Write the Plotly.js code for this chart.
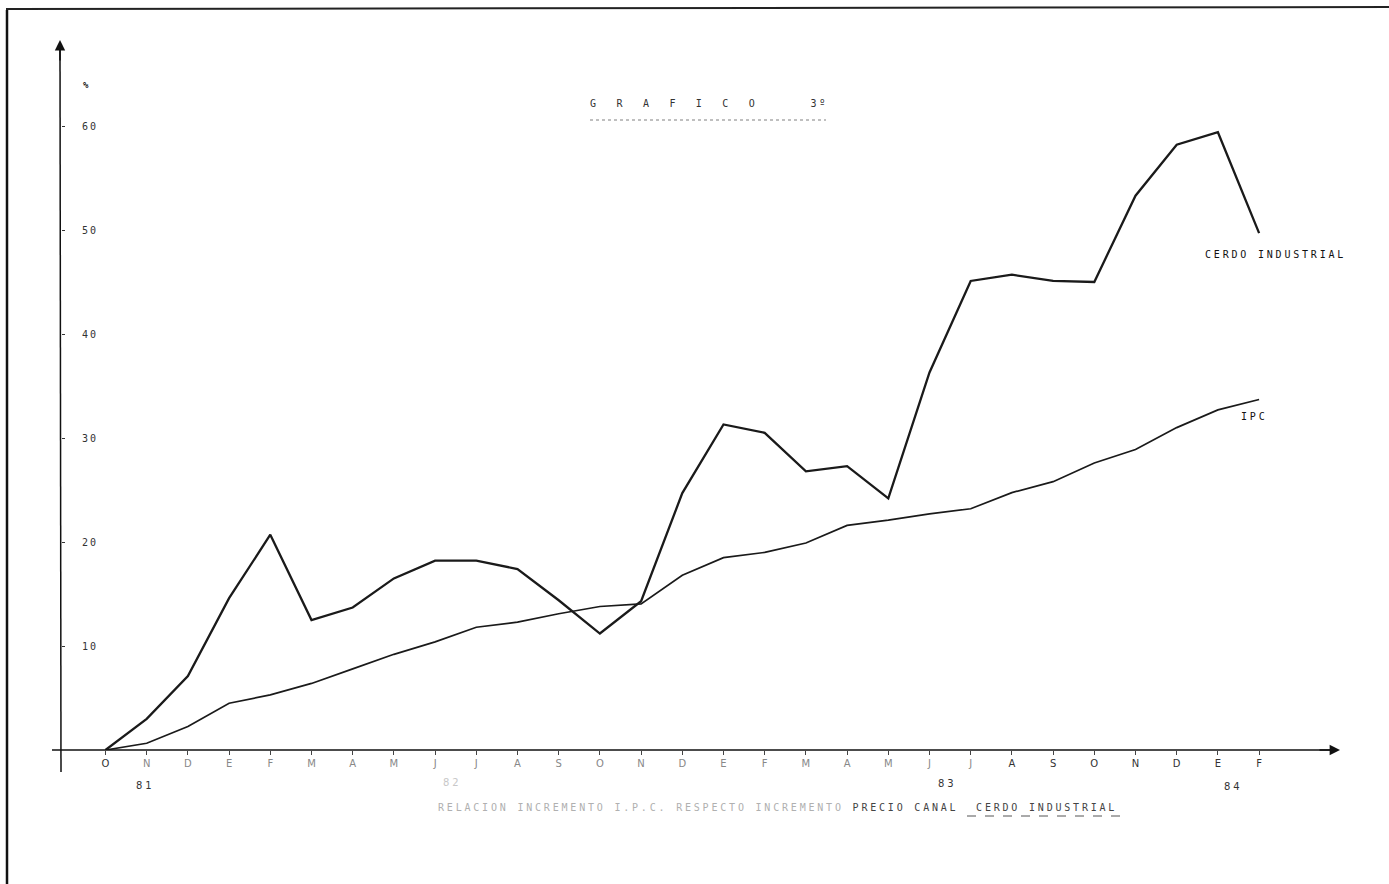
<!DOCTYPE html>
<html>
<head>
<meta charset="utf-8">
<script src="https://cdn.plot.ly/plotly-3.0.1.min.js"></script>
<style>
html,body{margin:0;padding:0;background:#fff;}
#chart{width:1389px;height:884px;}
.annotation-text{letter-spacing:2.8px;}
.ytick text{letter-spacing:2px;}
</style>
</head>
<body>
<div id="chart"></div>
<script>
// Months from Oct 1981 to Feb 1984
const months = ['O','N','D','E','F','M','A','M','J','J','A','S','O','N','D','E','F','M','A','M','J','J','A','S','O','N','D','E','F'];
const monthIndex = months.map((m, i) => i);
// % increase, CERDO INDUSTRIAL (pig carcass price)
const cerdo = [0, 3.0, 7.1, 14.6, 20.7, 12.5, 13.7, 16.5, 18.2, 18.2, 17.4, 14.4, 11.2, 14.3, 24.7, 31.3, 30.5, 26.8, 27.3, 24.2, 36.3, 45.1, 45.7, 45.1, 45.0, 53.3, 58.2, 59.4, 49.7];
// % increase, IPC
const ipc = [0, 0.65, 2.25, 4.5, 5.3, 6.4, 7.8, 9.2, 10.4, 11.8, 12.3, 13.1, 13.8, 14.05, 16.8, 18.5, 19.0, 19.9, 21.6, 22.1, 22.7, 23.2, 24.75, 25.8, 27.6, 28.9, 31.0, 32.7, 33.7];
const yTicks = [10, 20, 30, 40, 50, 60];
const yearLabels = ['81', '82', '83', '84'];
const yearAt = [0.97, 8.41, 20.43, 27.37];

const mono = 'DejaVu Sans Mono, Liberation Mono, monospace';

// faded scan: first and last months printed darker
const monthText = months.map((m, i) =>
  (i === 0 || i >= 22) ? '<span style="color:#333">' + m + '</span>' : m);

const traces = [
  {x: monthIndex, y: cerdo, type: 'scatter', mode: 'lines', name: 'CERDO INDUSTRIAL',
   line: {color: '#1a1a1a', width: 2.3}, hoverinfo: 'skip'},
  {x: monthIndex, y: ipc, type: 'scatter', mode: 'lines', name: 'IPC',
   line: {color: '#1a1a1a', width: 1.7}, hoverinfo: 'skip'}
];

// paper helpers (plot area: left 62, top 40, width 1278, height 710)
const L = 62, T = 40, W = 1278, H = 710;
const px = p => (p - L) / W;
const py = p => (T + H - p) / H;

const annotations = [
  {xref: 'paper', yref: 'paper', x: px(588), y: py(103), xanchor: 'left', yanchor: 'middle', showarrow: false,
   text: 'G\u00a0\u00a0R\u00a0\u00a0A\u00a0\u00a0F\u00a0\u00a0I\u00a0\u00a0C\u00a0\u00a0O\u00a0\u00a0\u00a0\u00a0\u00a0\u00a03º',
   font: {family: mono, size: 10, color: '#333'}},
  {xref: 'paper', yref: 'paper', x: px(81), y: py(85), xanchor: 'left', yanchor: 'middle', showarrow: false,
   text: '%', font: {family: mono, size: 9, color: '#111', weight: 700}},
  {xref: 'paper', yref: 'paper', x: px(1203), y: py(254), xanchor: 'left', yanchor: 'middle', showarrow: false,
   text: 'CERDO INDUSTRIAL', font: {family: mono, size: 10, color: '#111'}},
  {xref: 'paper', yref: 'paper', x: px(1239), y: py(416), xanchor: 'left', yanchor: 'middle', showarrow: false,
   text: 'IPC', font: {family: mono, size: 10, color: '#111'}},
  {xref: 'paper', yref: 'paper', x: px(436), y: py(807), xanchor: 'left', yanchor: 'middle', showarrow: false,
   text: '<span style="color:#b0b0b0">RELACION INCREMENTO I.P.C. RESPECTO INCREMENTO</span> <span style="color:#444">PRECIO CANAL \u00a0CERDO INDUSTRIAL</span>',
   font: {family: mono, size: 10, color: '#444'}},
  // axis arrows
  {xref: 'paper', yref: 'paper', x: 1.0, y: 0, ax: -22, ay: 0, showarrow: true, arrowhead: 2, arrowsize: 1.3, arrowwidth: 1.6, arrowcolor: '#111', text: ''},
  {xref: 'paper', yref: 'paper', x: px(60), y: py(40), ax: 0, ay: 22, showarrow: true, arrowhead: 2, arrowsize: 1.3, arrowwidth: 1.6, arrowcolor: '#111', text: ''}
];
yearLabels.forEach((t, i) => {
  annotations.push({xref: 'x', yref: 'paper', x: yearAt[i], y: py([793, 790, 791, 794][i]), showarrow: false,
    text: t, font: {family: 'DejaVu Sans, sans-serif', size: 10, color: i === 1 ? '#c8c8c8' : '#333'}});
});

const shapes = [
  // scan frame
  {type: 'line', xref: 'paper', yref: 'paper', x0: px(7), x1: px(7), y0: py(10), y1: py(884), line: {color: '#111', width: 2.5}},
  {type: 'line', xref: 'paper', yref: 'paper', x0: px(6), x1: px(1389), y0: py(9), y1: py(7), line: {color: '#222', width: 2}},
  // y axis line
  {type: 'line', xref: 'paper', yref: 'paper', x0: px(60), x1: px(61), y0: py(48), y1: py(772), line: {color: '#111', width: 1.5}},
  // x axis line
  {type: 'line', xref: 'paper', yref: 'paper', x0: px(52), x1: 0.995, y0: 0, y1: 0, line: {color: '#111', width: 1.5}},
  // title underline (dotted)
  {type: 'line', xref: 'paper', yref: 'paper', x0: px(590), x1: px(826), y0: py(120), y1: py(120), line: {color: '#aaa', width: 1.5, dash: 'dot'}},
  // caption underline
  {type: 'line', xref: 'paper', yref: 'paper', x0: px(967), x1: px(1126), y0: py(816), y1: py(816), line: {color: '#555', width: 1, dash: 'dash'}}
];

const layout = {
  width: 1389, height: 884,
  margin: {l: L, r: 1389 - L - W, t: T, b: 884 - T - H, pad: 0},
  paper_bgcolor: '#fff', plot_bgcolor: '#fff',
  showlegend: false,
  xaxis: {
    range: [(L - 105.5) / 41.2, (L + W - 105.5) / 41.2],
    tickmode: 'array', tickvals: monthIndex, ticktext: monthText,
    ticks: 'outside', ticklen: 4, tickwidth: 1, tickcolor: '#444',
    tickfont: {family: 'DejaVu Sans, sans-serif', size: 10, color: '#888'},
    showgrid: false, zeroline: false, showline: false, fixedrange: true
  },
  yaxis: {
    range: [0, H / 10.4],
    tickmode: 'array', tickvals: yTicks, ticktext: yTicks.map(String),
    ticks: 'inside', ticklen: 3, tickwidth: 1, tickcolor: '#333',
    ticklabelposition: 'inside', ticklabelstandoff: 16,
    tickfont: {family: mono, size: 10, color: '#333'},
    showgrid: false, zeroline: false, showline: false, fixedrange: true
  },
  annotations: annotations,
  shapes: shapes
};

Plotly.newPlot('chart', traces, layout, {displayModeBar: false, staticPlot: true});
</script>
</body>
</html>
